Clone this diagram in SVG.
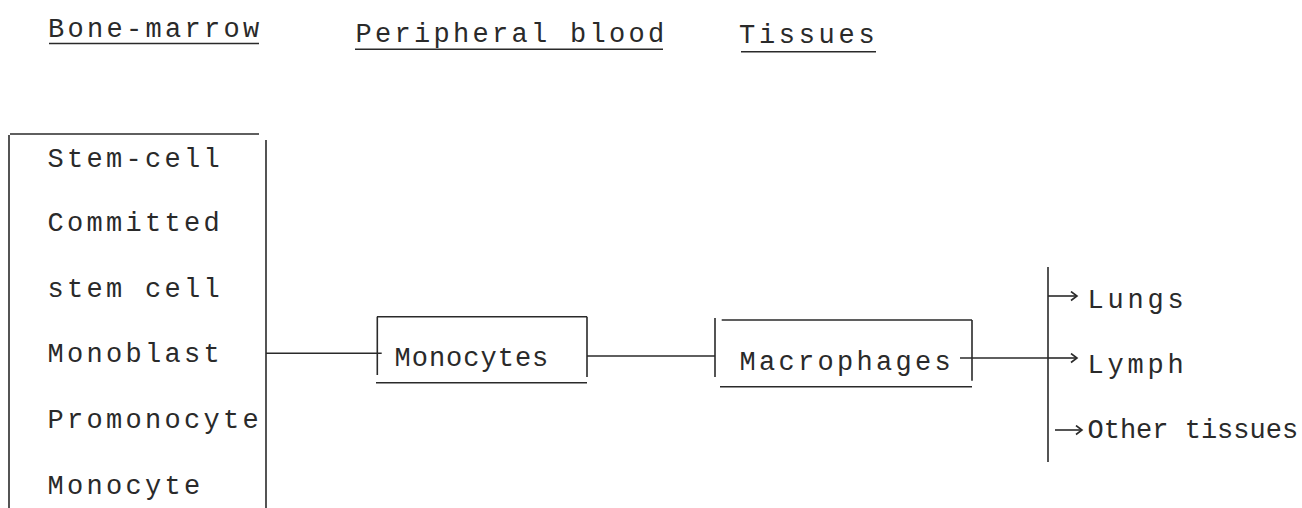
<svg xmlns="http://www.w3.org/2000/svg" width="1302" height="508" viewBox="0 0 1302 508">
<style>
text{font-family:"Liberation Mono","Courier New",monospace;font-size:27px;fill:#2a2a2a;letter-spacing:3.3px}
.ln{stroke:#2a2a2a;stroke-width:1.6;fill:none}
</style>
<defs>
<marker id="chev" markerWidth="10" markerHeight="12" refX="7" refY="5" orient="auto" markerUnits="userSpaceOnUse">
<path d="M1,0.5 L7,5 L1,9.5" fill="none" stroke="#2a2a2a" stroke-width="1.6"/>
</marker>
</defs>
<rect width="1302" height="508" fill="#fff"/>
<g id="headers">
<text x="48" y="37">Bone-marrow</text>
<line class="ln" x1="49" y1="43.5" x2="259" y2="43.5"/>
<text x="355.5" y="41.7">Peripheral blood</text>
<line class="ln" x1="355" y1="49.3" x2="663" y2="49.3"/>
<text x="739" y="43.3" style="letter-spacing:3.7px">Tissues</text>
<line class="ln" x1="741" y1="51.7" x2="876" y2="51.7"/>
</g>
<g id="bone-marrow">
<line class="ln" x1="10" y1="134" x2="259" y2="134"/>
<line class="ln" x1="9" y1="135" x2="9" y2="508"/>
<line class="ln" x1="266" y1="140" x2="266" y2="508"/>
<text x="47.5" y="166.7">Stem-cell</text>
<text x="47.5" y="231">Committed</text>
<text x="47.5" y="296.7">stem cell</text>
<text x="47.5" y="362">Monoblast</text>
<text x="47.5" y="428">Promonocyte</text>
<text x="47.5" y="494">Monocyte</text>
</g>
<g id="monocytes">
<line class="ln" x1="377.3" y1="316.7" x2="377.3" y2="375"/>
<line class="ln" x1="377" y1="316.7" x2="587" y2="316.7"/>
<line class="ln" x1="587" y1="316.7" x2="587" y2="377"/>
<line class="ln" x1="376" y1="382.7" x2="587" y2="382.7"/>
<text x="394.5" y="366" style="letter-spacing:1px">Monocytes</text>
</g>
<g id="macrophages">
<line class="ln" x1="715" y1="318" x2="715" y2="377"/>
<line class="ln" x1="721.7" y1="320" x2="972" y2="320"/>
<line class="ln" x1="972" y1="320" x2="972" y2="380.7"/>
<line class="ln" x1="720" y1="386.7" x2="972" y2="386.7"/>
<text x="739.5" y="370">Macrophages</text>
</g>
<g id="destinations">
<text x="1087.5" y="308" style="letter-spacing:3.8px">Lungs</text>
<text x="1087.5" y="373" style="letter-spacing:3.8px">Lymph</text>
<text x="1087.5" y="438" style="letter-spacing:0px">Other tissues</text>
</g>
<g id="connectors">
<line class="ln" x1="266" y1="353.3" x2="381.7" y2="353.3"/>
<line class="ln" x1="587" y1="356" x2="715" y2="356"/>
<line class="ln" x1="960" y1="358" x2="1048" y2="358"/>
<line class="ln" x1="1048" y1="267" x2="1048" y2="462"/>
<line class="ln" x1="1048" y1="296" x2="1077" y2="296" marker-end="url(#chev)"/>
<line class="ln" x1="1048" y1="358" x2="1077" y2="358" marker-end="url(#chev)"/>
<line class="ln" x1="1055" y1="430" x2="1082" y2="430" marker-end="url(#chev)"/>
</g>
</svg>
